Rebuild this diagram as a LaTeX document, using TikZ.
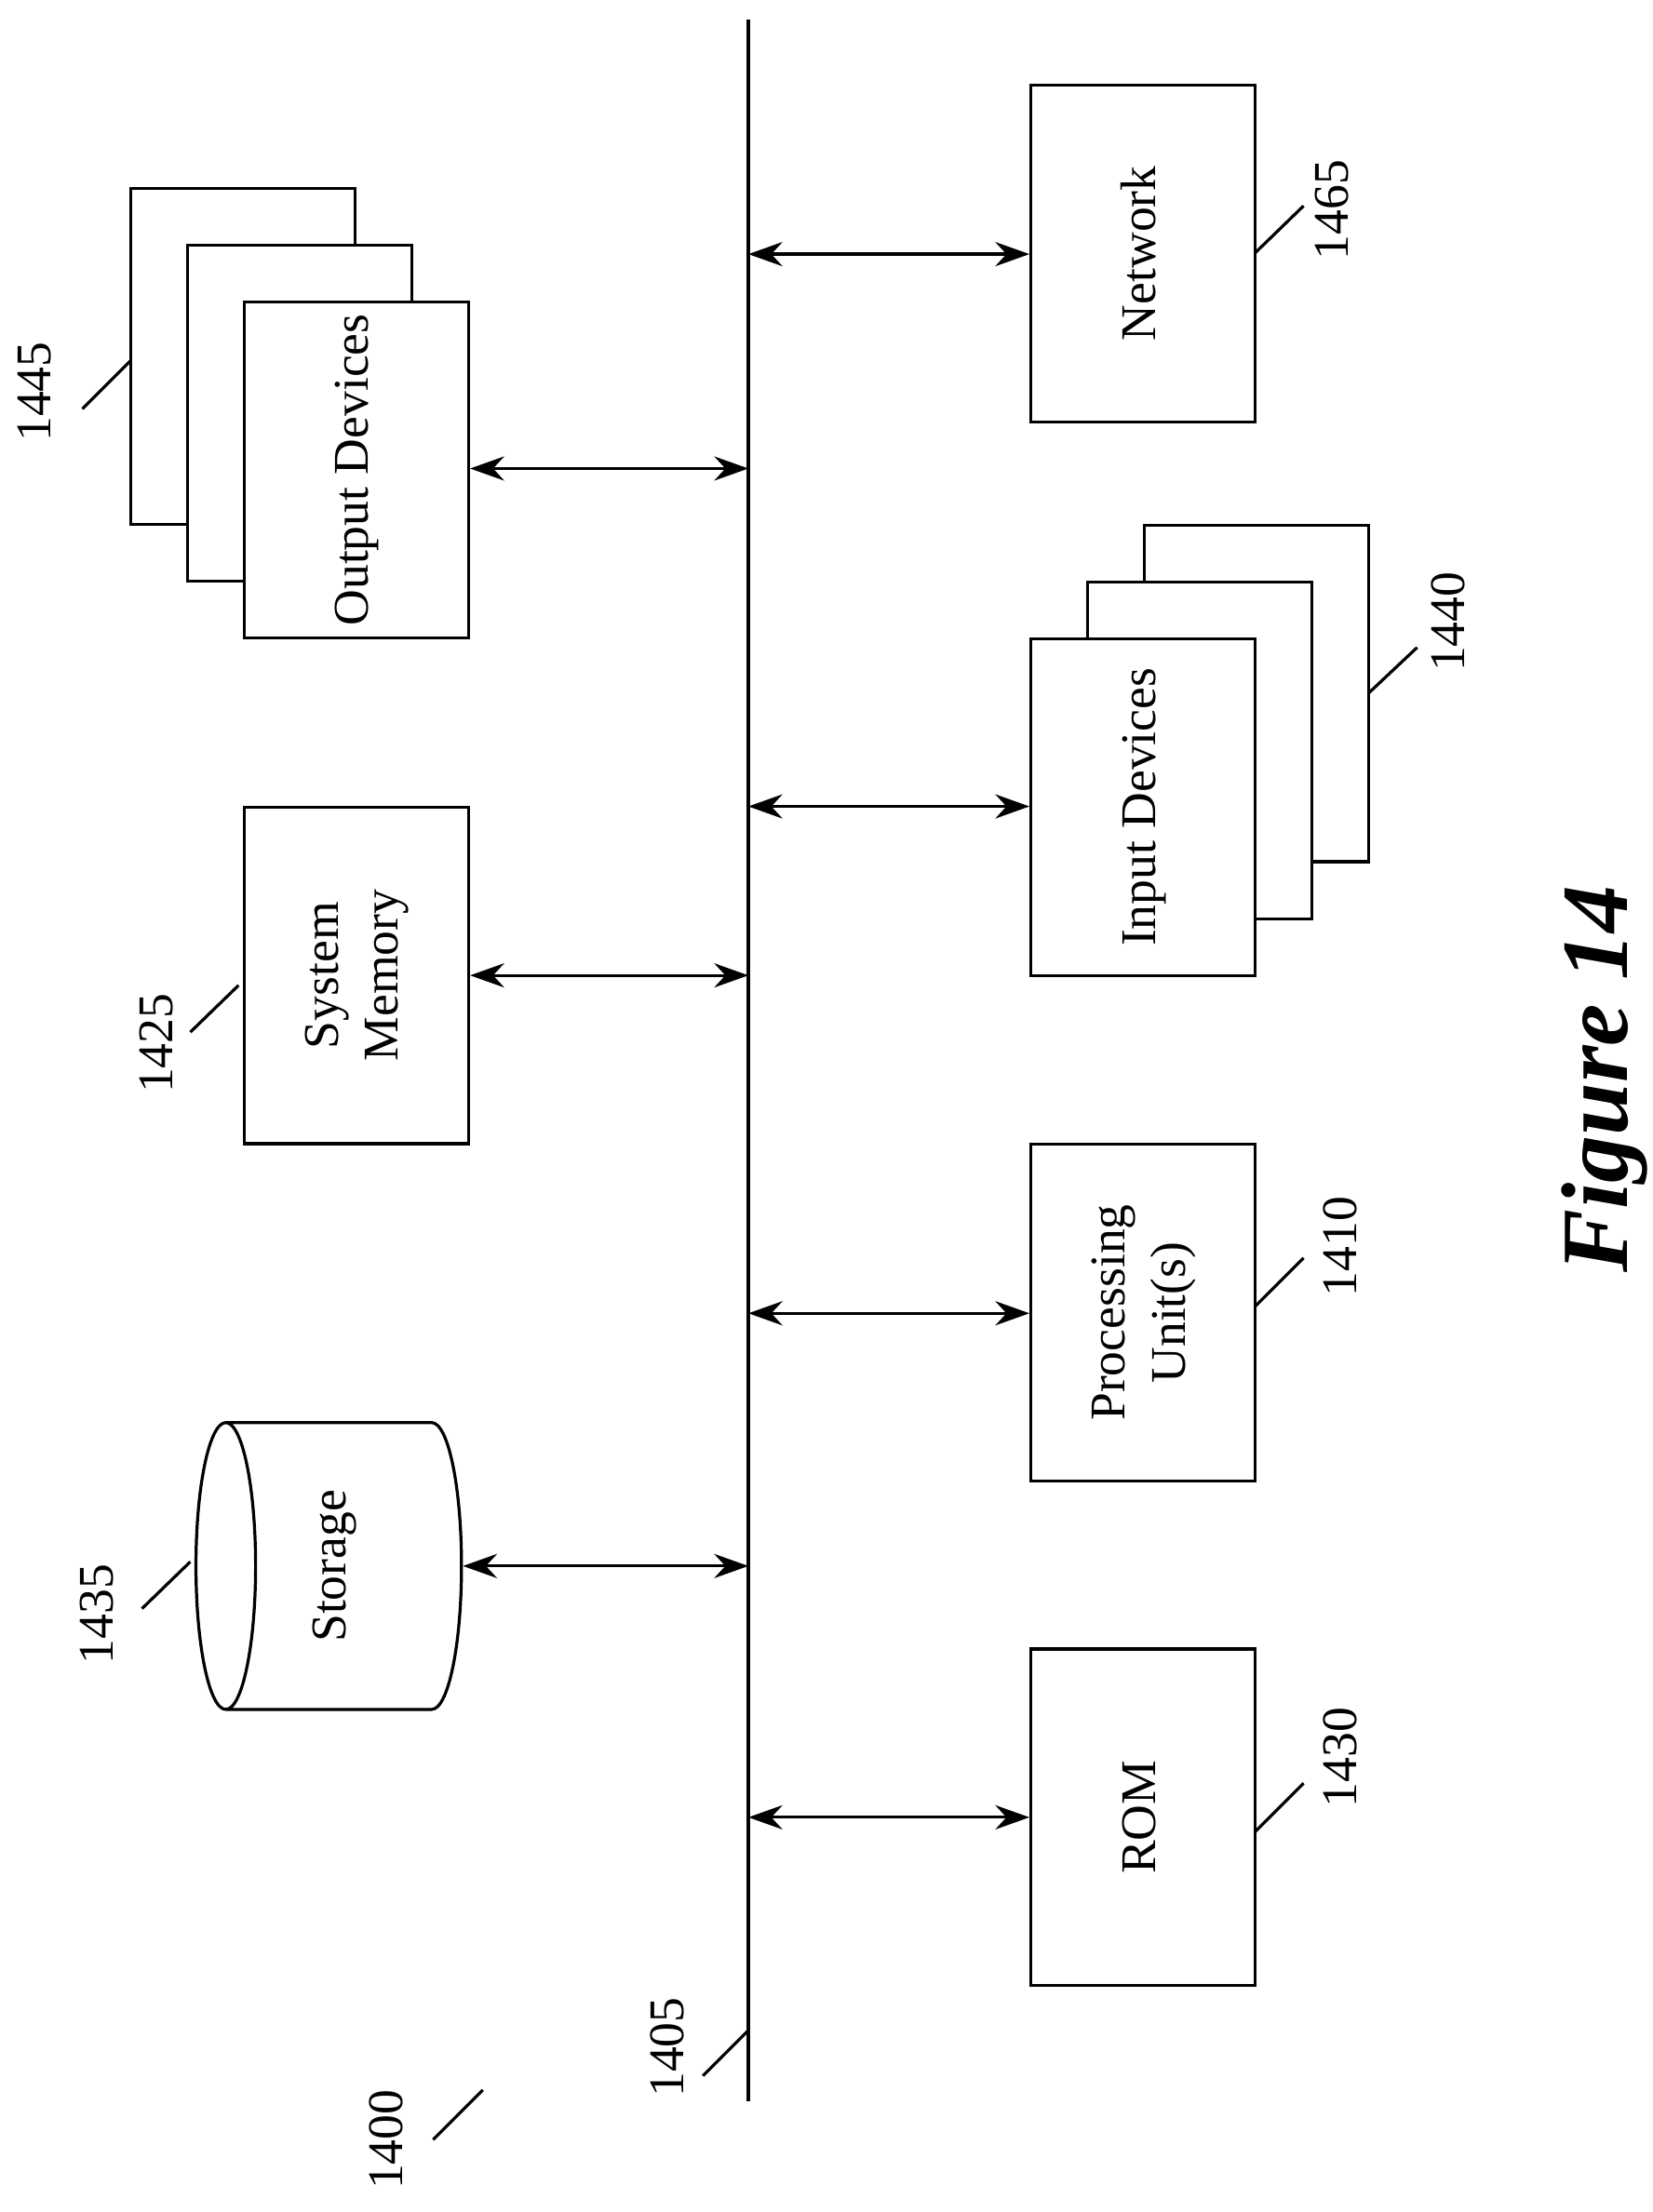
\documentclass[tikz,border=0pt]{standalone}
\usepackage{fontspec}
\setmainfont{Liberation Serif}
\usetikzlibrary{arrows.meta}
\newcommand{\rt}[1]{\rotatebox{90}{\begin{tabular}{@{}c@{}}#1\end{tabular}}}
\tikzset{
    unit/.style={
           rectangle,
           draw=black, line width=0.6pt,
           fill=white,
           minimum width=15.8mm,
           minimum height=23.7mm,
           inner sep=0pt,
           font=\fontsize{10}{12}\selectfont,
           },
    tag/.style={font=\fontsize{10}{12}\selectfont, rotate=90},
    lead/.style={line width=0.6pt, -},
    link/.style={{Stealth[length=2.4mm,width=1.7mm]}-{Stealth[length=2.4mm,width=1.7mm]}, line width=0.6pt},
}
\begin{document}
\begin{tikzpicture}[x=0.1mm,y=-0.1mm]
    \useasboundingbox (0,0) rectangle (1164,1558);

    % bus
    \draw[line width=0.9pt] (527,14) coordinate (bustop) -- (527,1480) coordinate (busend);

    % right column
    \node[unit] (net) at (805,178.5) {\rt{Network}};
    \node[unit] (in3) at (885,488.5) {};
    \node[unit] (in2) at (845,528.5) {};
    \node[unit] (in) at (805,568.5) {\rt{Input Devices}};
    \node[unit] (cpu) at (805,924.5) {\rt{Processing\\Unit(s)}};
    \node[unit] (rom) at (805,1280) {\rt{ROM}};

    % left column
    \node[unit] (out3) at (171,251) {};
    \node[unit] (out2) at (211,291) {};
    \node[unit] (out) at (251,331) {\rt{Output Devices}};
    \node[unit] (mem) at (251,687) {\rt{System\\Memory}};

    % storage cylinder
    \draw[line width=0.6pt] (159,1002) -- (304,1002) arc[start angle=90,end angle=-90,x radius=2.1mm,y radius=10.1mm] -- (159,1204)
        (159,1103) ellipse[x radius=2.1mm,y radius=10.1mm];
    \node[minimum width=18.8mm,minimum height=20.2mm,inner sep=0pt,font=\fontsize{10}{12}\selectfont] (disk) at (235,1103) {\rt{Storage}};
    \coordinate (diskr) at (326,1103);

    % bus taps
    \foreach \n/\y in {net/179,in/568,cpu/925,rom/1280,out/330,mem/687,disk/1103}
        \coordinate (b-\n) at (527,\y);

    \draw[link] (b-net) -- (net.west |- b-net);
    \draw[link] (b-in) -- (in.west |- b-in);
    \draw[link] (b-cpu) -- (cpu.west |- b-cpu);
    \draw[link] (b-rom) -- (rom.west |- b-rom);
    \draw[link] (out.east |- b-out) -- (b-out);
    \draw[link] (mem.east |- b-mem) -- (b-mem);
    \draw[link] (diskr) -- (b-disk);

    % reference numerals
    \draw[lead] (884,178) -- (918,145);   \node[tag] (t1465) at (938,148) {1465};
    \draw[lead] (964,488) -- (998,456);   \node[tag] (t1440) at (1020,438) {1440};
    \draw[lead] (884,920) -- (918,886);   \node[tag] (t1410) at (944,878) {1410};
    \draw[lead] (884,1290) -- (918,1256); \node[tag] (t1430) at (944,1238) {1430};
    \draw[lead] (58,288) -- (92,254);     \node[tag] (t1445) at (24,276) {1445};
    \draw[lead] (134,727) -- (168,694);   \node[tag] (t1425) at (110,735) {1425};
    \draw[lead] (100,1133) -- (134,1100); \node[tag] (t1435) at (68,1137) {1435};
    \draw[lead] (495,1462) -- (527,1430); \node[tag] (t1405) at (470,1442) {1405};
    \draw[lead] (305,1507) -- (340,1472); \node[tag] (t1400) at (272,1507) {1400};

    \node[rotate=90,font=\fontsize{19}{22}\selectfont\bfseries\itshape] (fig) at (1130,760) {Figure 14};
\end{tikzpicture}
\end{document}
